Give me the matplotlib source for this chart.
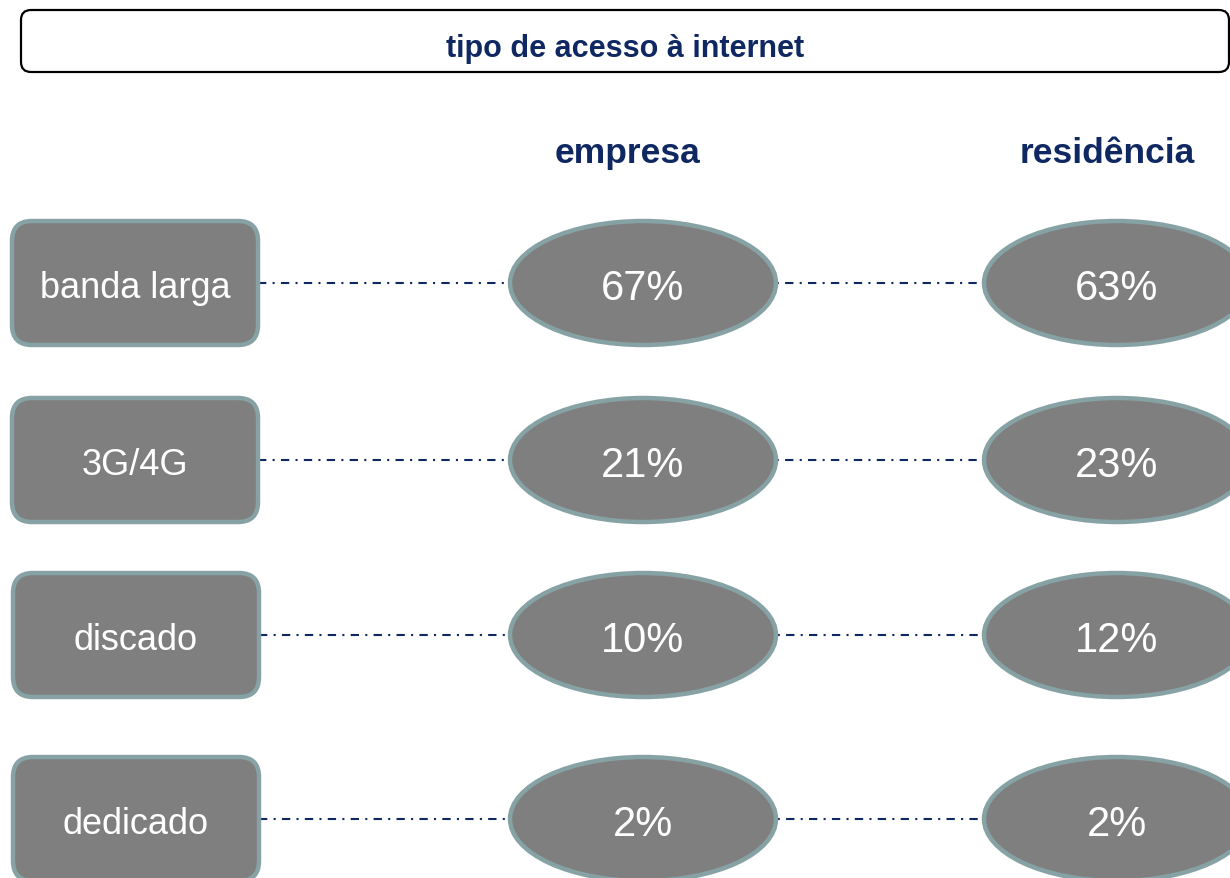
import matplotlib.pyplot as plt
from matplotlib.patches import FancyBboxPatch, Ellipse

# data
categorias = ["banda larga", "3G/4G", "discado", "dedicado"]
empresa = [67, 21, 10, 2]
residencia = [63, 23, 12, 2]
colunas = ["empresa", "residência"]
titulo = "tipo de acesso à internet"

NAVY = "#0F2862"
FILL = "#7F7F7F"
EDGE = "#87A2A4"
FONT = ["Liberation Sans", "DejaVu Sans"]

fig = plt.figure(figsize=(12.3, 8.79), dpi=100)
ax = fig.add_axes([0, 0, 1, 1])
ax.set_xlim(0, 1230)
ax.set_ylim(879, 0)
ax.axis("off")

# title box
ax.add_patch(FancyBboxPatch((21, 11), 1208, 62,
                            boxstyle="round,pad=0,rounding_size=10",
                            facecolor="white", edgecolor="black", linewidth=1.6))
ax.text(625, 57, titulo, ha="center", va="baseline", fontsize=22,
        fontweight="bold", color=NAVY, family=FONT)

# column headers
col_x = [643, 1117]
header_x = [627, 1107]
for hx, nome in zip(header_x, colunas):
    ax.text(hx, 163, nome, ha="center", va="baseline", fontsize=25.5,
            fontweight="bold", color=NAVY, family=FONT)

row_y = [284, 461, 636, 820]
box_x = [12, 12, 13, 13]
box_w, box_h = 246, 124
ell_w, ell_h = 266, 124

for i, cat in enumerate(categorias):
    y = row_y[i]
    # connector lines
    ax.plot([box_x[i] + box_w, col_x[1] - ell_w / 2], [y, y], color=NAVY,
            linewidth=1.5, linestyle=(0, (4, 3, 1, 3)), zorder=1)
    # category box
    ax.add_patch(FancyBboxPatch((box_x[i], y - box_h / 2), box_w, box_h,
                                boxstyle="round,pad=0,rounding_size=20",
                                facecolor=FILL, edgecolor=EDGE, linewidth=3.2,
                                zorder=2))
    ax.text(box_x[i] + box_w / 2, y + 14, cat, ha="center", va="baseline",
            fontsize=26, color="white", family=FONT, zorder=3)
    # value ellipses
    for cx, vals in zip(col_x, [empresa, residencia]):
        ax.add_patch(Ellipse((cx, y), ell_w, ell_h, facecolor=FILL,
                             edgecolor=EDGE, linewidth=3.2, zorder=2))
        ax.text(cx, y + 16, f"{vals[i]}%", ha="center", va="baseline",
                fontsize=30, color="white", family=FONT, zorder=3)

fig.savefig("out.png", dpi=100)
